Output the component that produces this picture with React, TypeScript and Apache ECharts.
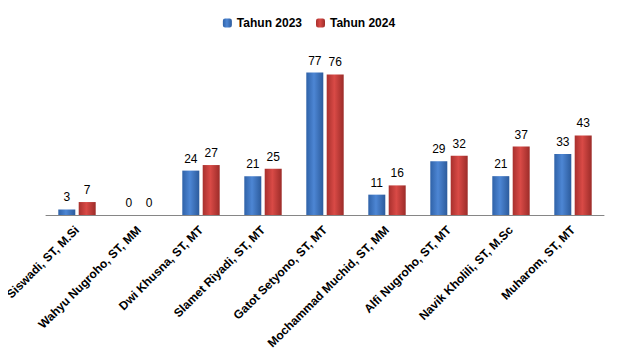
import React, { useEffect, useRef } from "react";
import * as echarts from "echarts";

const categories = [
  "Siswadi, ST, M.Si",
  "Wahyu Nugroho, ST, MM",
  "Dwi Khusna, ST, MT",
  "Slamet Riyadi, ST, MT",
  "Gatot Setyono, ST, MT",
  "Mochammad Muchid, ST, MM",
  "Alfi Nugroho, ST, MT",
  "Navik Kholili, ST, M.Sc",
  "Muharom, ST, MT",
];
const tahun2023 = [3, 0, 24, 21, 77, 11, 29, 21, 33];
const tahun2024 = [7, 0, 27, 25, 76, 16, 32, 37, 43];

const FONT = "'Liberation Sans', 'DejaVu Sans', sans-serif";

function grad(l: string, m: string, r: string) {
  return new echarts.graphic.LinearGradient(0, 0, 1, 0, [
    { offset: 0, color: l },
    { offset: 0.45, color: m },
    { offset: 1, color: r },
  ]);
}

export default function App() {
  const ref = useRef<HTMLDivElement>(null);
  useEffect(() => {
    if (!ref.current) return;
    const chart = echarts.init(ref.current, null, { renderer: "svg" });
    const blue = grad("#2f62a8", "#4d86d4", "#2c5b9c");
    const red = grad("#a8302d", "#d94a46", "#9c2c29");
    chart.setOption({
      animation: false,
      backgroundColor: "#ffffff",
      textStyle: { fontFamily: FONT },
      legend: {
        top: 12,
        left: "center",
        itemWidth: 9,
        itemHeight: 9,
        itemGap: 14,
        textStyle: { fontFamily: FONT, fontWeight: "bold", fontSize: 12, color: "#000" },
        data: ["Tahun 2023", "Tahun 2024"],
      },
      grid: { left: 46, right: 14, top: 30, bottom: 149, containLabel: false },
      xAxis: {
        type: "category",
        data: categories,
        axisLine: { lineStyle: { color: "#868686", width: 1 } },
        axisTick: { show: false },
        axisLabel: {
          rotate: 45,
          interval: 0,
          margin: 13,
          fontFamily: FONT,
          fontWeight: "bold",
          fontSize: 12,
          color: "#000",
        },
      },
      yAxis: {
        type: "value",
        min: 0,
        max: 100,
        show: false,
        splitLine: { show: false },
      },
      series: [
        {
          name: "Tahun 2023",
          type: "bar",
          data: tahun2023,
          barWidth: 17,
          barGap: "20%",
          itemStyle: { color: blue },
          label: {
            show: true,
            position: "top",
            distance: 6,
            fontFamily: FONT,
            fontSize: 12,
            color: "#000",
          },
        },
        {
          name: "Tahun 2024",
          type: "bar",
          data: tahun2024,
          barWidth: 17,
          itemStyle: { color: red },
          label: {
            show: true,
            position: "top",
            distance: 6,
            fontFamily: FONT,
            fontSize: 12,
            color: "#000",
          },
        },
      ],
    });
    return () => chart.dispose();
  }, []);
  return <div ref={ref} style={{ width: 618, height: 364, margin: -8 }} />;
}
